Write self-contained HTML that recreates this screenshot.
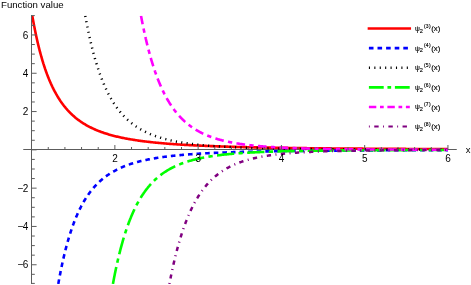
<!DOCTYPE html>
<html><head><meta charset="utf-8"><title>plot</title>
<style>
html,body{margin:0;padding:0;background:#fff;}
body{width:471px;height:285px;overflow:hidden;}
svg{display:block;will-change:transform;}
text{font-family:"Liberation Sans",sans-serif;fill:#000;}
</style></head><body>
<svg width="471" height="285" viewBox="0 0 471 285">
<rect width="471" height="285" fill="#fff"/>
<defs><clipPath id="c"><rect x="23.27" y="15.80" width="433.00" height="268.10"/></clipPath><filter id="g" filterUnits="userSpaceOnUse" x="0" y="0" width="471" height="285" color-interpolation-filters="sRGB"><feOffset dx="0" dy="0"/></filter></defs>
<g stroke="#5c5c5c" stroke-width="1" fill="none">
<line x1="23.27" y1="149.50" x2="456.78" y2="149.50"/>
</g>
<g clip-path="url(#c)" fill="none" stroke-linejoin="round">
<path d="M32.29 15.80 L32.43 16.60 L32.57 17.39 L32.71 18.17 L32.85 18.95 L32.99 19.72 L33.13 20.48 L33.27 21.24 L33.41 22.00 L33.55 22.74 L33.69 23.49 L33.83 24.22 L33.97 24.95 L34.10 25.68 L34.24 26.40 L34.38 27.11 L34.52 27.82 L34.66 28.52 L34.80 29.22 L34.94 29.91 L35.08 30.60 L35.22 31.28 L35.36 31.95 L35.50 32.63 L35.64 33.29 L35.78 33.95 L35.91 34.61 L36.05 35.26 L36.19 35.91 L36.33 36.55 L36.47 37.18 L36.61 37.81 L36.75 38.44 L36.89 39.06 L37.03 39.68 L37.17 40.29 L37.31 40.90 L37.45 41.51 L37.59 42.11 L37.72 42.70 L37.86 43.29 L38.00 43.88 L38.14 44.46 L38.28 45.04 L38.42 45.61 L38.56 46.18 L38.70 46.75 L38.84 47.31 L38.98 47.86 L39.12 48.42 L39.26 48.96 L39.40 49.51 L39.54 50.05 L39.67 50.59 L39.81 51.12 L39.95 51.65 L40.09 52.18 L40.23 52.70 L40.37 53.21 L40.51 53.73 L40.65 54.24 L40.79 54.75 L40.93 55.25 L41.07 55.75 L41.21 56.25 L41.35 56.74 L41.48 57.23 L41.62 57.71 L41.76 58.20 L41.90 58.68 L42.04 59.15 L42.18 59.62 L42.32 60.09 L42.46 60.56 L42.60 61.02 L42.74 61.48 L42.88 61.94 L43.02 62.39 L43.16 62.84 L43.29 63.29 L43.43 63.73 L43.57 64.17 L43.71 64.61 L43.85 65.04 L43.99 65.47 L44.13 65.90 L44.27 66.33 L44.41 66.75 L44.55 67.17 L44.69 67.59 L44.83 68.00 L44.97 68.41 L45.11 68.82 L45.24 69.23 L45.38 69.63 L45.52 70.03 L45.66 70.43 L45.80 70.82 L45.94 71.22 L46.08 71.60 L46.22 71.99 L46.36 72.38 L46.50 72.76 L46.64 73.14 L46.78 73.51 L46.92 73.89 L47.05 74.26 L47.19 74.63 L47.33 75.00 L47.47 75.36 L47.61 75.72 L47.75 76.08 L47.89 76.44 L48.03 76.80 L48.17 77.15 L48.31 77.50 L48.45 77.85 L48.59 78.19 L48.73 78.54 L48.86 78.88 L49.00 79.22 L49.14 79.56 L49.28 79.89 L49.42 80.22 L49.56 80.55 L49.70 80.88 L49.84 81.21 L49.98 81.53 L50.12 81.86 L50.26 82.18 L50.40 82.49 L50.54 82.81 L50.68 83.12 L50.81 83.44 L50.95 83.75 L51.09 84.05 L51.23 84.36 L51.37 84.66 L51.51 84.97 L51.65 85.27 L51.79 85.57 L51.93 85.86 L52.07 86.16 L52.21 86.45 L52.35 86.74 L52.49 87.03 L52.62 87.32 L52.76 87.60 L52.90 87.89 L53.04 88.17 L53.18 88.45 L53.32 88.73 L53.46 89.01 L53.60 89.28 L53.74 89.56 L53.88 89.83 L54.02 90.10 L54.16 90.37 L54.30 90.63 L54.43 90.90 L54.57 91.16 L54.71 91.43 L54.85 91.69 L54.99 91.94 L55.13 92.20 L55.27 92.46 L55.41 92.71 L55.55 92.97 L55.69 93.22 L55.83 93.47 L55.97 93.71 L56.11 93.96 L56.24 94.21 L56.38 94.45 L56.52 94.69 L56.66 94.93 L56.80 95.17 L56.94 95.41 L57.08 95.65 L57.22 95.88 L57.36 96.12 L57.50 96.35 L57.64 96.58 L57.78 96.81 L57.92 97.04 L58.06 97.27 L58.19 97.49 L58.33 97.72 L58.47 97.94 L58.61 98.16 L58.75 98.38 L58.89 98.60 L59.03 98.82 L59.17 99.03 L59.31 99.25 L59.45 99.46 L59.59 99.68 L59.73 99.89 L59.87 100.10 L60.00 100.31 L60.14 100.52 L60.28 100.72 L60.42 100.93 L60.56 101.13 L60.70 101.34 L60.84 101.54 L60.98 101.74 L61.12 101.94 L61.26 102.14 L61.40 102.34 L61.54 102.53 L61.68 102.73 L61.81 102.92 L61.95 103.11 L62.09 103.31 L62.23 103.50 L62.37 103.69 L62.51 103.88 L62.65 104.06 L62.79 104.25 L62.93 104.44 L63.07 104.62 L63.21 104.81 L63.35 104.99 L63.49 105.17 L63.63 105.35 L63.76 105.53 L63.90 105.71 L64.04 105.89 L64.18 106.06 L64.32 106.24 L64.46 106.41 L64.60 106.59 L64.74 106.76 L64.88 106.93 L65.02 107.10 L65.16 107.27 L65.30 107.44 L65.44 107.61 L65.57 107.78 L65.71 107.94 L65.85 108.11 L65.99 108.27 L66.13 108.44 L66.27 108.60 L66.41 108.76 L66.55 108.92 L66.69 109.08 L66.83 109.24 L66.97 109.40 L67.11 109.56 L67.25 109.71 L67.38 109.87 L67.52 110.02 L67.66 110.18 L67.80 110.33 L67.94 110.48 L68.08 110.64 L68.22 110.79 L68.36 110.94 L68.50 111.09 L68.64 111.23 L68.78 111.38 L68.92 111.53 L69.06 111.68 L69.19 111.82 L69.33 111.97 L69.47 112.11 L69.61 112.25 L69.75 112.40 L69.89 112.54 L70.03 112.68 L70.17 112.82 L70.31 112.96 L70.45 113.10 L70.59 113.23 L70.73 113.37 L70.87 113.51 L71.01 113.64 L71.14 113.78 L71.28 113.91 L71.42 114.05 L71.56 114.18 L71.70 114.31 L71.84 114.44 L71.98 114.58 L72.12 114.71 L72.26 114.84 L72.40 114.97 L72.54 115.09 L72.68 115.22 L72.82 115.35 L72.95 115.47 L73.09 115.60 L73.23 115.73 L73.37 115.85 L73.51 115.97 L73.65 116.10 L73.79 116.22 L73.93 116.34 L74.87 117.15 L75.80 117.93 L76.74 118.68 L77.68 119.41 L78.62 120.12 L79.55 120.80 L80.49 121.46 L81.43 122.10 L82.37 122.72 L83.30 123.33 L84.24 123.91 L85.18 124.47 L86.12 125.02 L87.05 125.55 L87.99 126.07 L88.93 126.57 L89.87 127.06 L90.80 127.53 L91.74 127.99 L92.68 128.43 L93.61 128.87 L94.55 129.29 L95.49 129.70 L96.43 130.09 L97.36 130.48 L98.30 130.86 L99.24 131.22 L100.18 131.58 L101.11 131.92 L102.05 132.26 L102.99 132.59 L103.93 132.91 L104.86 133.22 L105.80 133.52 L106.74 133.82 L107.68 134.11 L108.61 134.39 L109.55 134.66 L110.49 134.93 L111.43 135.19 L112.36 135.44 L113.30 135.69 L114.24 135.93 L115.17 136.17 L116.11 136.40 L117.05 136.62 L117.99 136.84 L118.92 137.06 L119.86 137.27 L120.80 137.47 L121.74 137.67 L122.67 137.87 L123.61 138.06 L124.55 138.24 L125.49 138.43 L126.42 138.60 L127.36 138.78 L128.30 138.95 L129.24 139.11 L130.17 139.28 L131.11 139.44 L132.05 139.59 L132.99 139.75 L133.92 139.90 L134.86 140.04 L135.80 140.19 L136.73 140.33 L137.67 140.46 L138.61 140.60 L139.55 140.73 L140.48 140.86 L141.42 140.99 L142.36 141.11 L143.30 141.23 L144.23 141.35 L145.17 141.47 L146.11 141.58 L147.05 141.69 L147.98 141.80 L148.92 141.91 L149.86 142.02 L150.80 142.12 L151.73 142.22 L152.67 142.32 L153.61 142.42 L154.55 142.52 L155.48 142.61 L156.42 142.70 L157.36 142.79 L158.29 142.88 L159.23 142.97 L160.17 143.06 L161.11 143.14 L162.04 143.22 L162.98 143.31 L163.92 143.39 L164.86 143.47 L165.79 143.54 L166.73 143.62 L167.67 143.69 L168.61 143.77 L169.54 143.84 L170.48 143.91 L171.42 143.98 L172.36 144.05 L173.29 144.11 L174.23 144.18 L175.17 144.25 L176.11 144.31 L177.04 144.37 L177.98 144.43 L178.92 144.50 L179.85 144.56 L180.79 144.61 L181.73 144.67 L182.67 144.73 L183.60 144.79 L184.54 144.84 L185.48 144.89 L186.42 144.95 L187.35 145.00 L188.29 145.05 L189.23 145.10 L190.17 145.15 L191.10 145.20 L192.04 145.25 L192.98 145.30 L193.92 145.35 L194.85 145.39 L195.79 145.44 L196.73 145.48 L197.67 145.53 L198.60 145.57 L199.54 145.62 L200.48 145.66 L201.42 145.70 L202.35 145.74 L203.29 145.78 L204.23 145.82 L205.16 145.86 L206.10 145.90 L207.04 145.94 L207.98 145.98 L208.91 146.01 L209.85 146.05 L210.79 146.09 L211.73 146.12 L212.66 146.16 L213.60 146.19 L214.54 146.23 L215.48 146.26 L216.41 146.30 L217.35 146.33 L218.29 146.36 L219.23 146.39 L220.16 146.42 L221.10 146.46 L222.04 146.49 L222.98 146.52 L223.91 146.55 L224.85 146.58 L225.79 146.61 L226.72 146.63 L227.66 146.66 L228.60 146.69 L229.54 146.72 L230.47 146.75 L231.41 146.77 L232.35 146.80 L233.29 146.83 L234.22 146.85 L235.16 146.88 L236.10 146.90 L237.04 146.93 L237.97 146.95 L238.91 146.98 L239.85 147.00 L240.79 147.03 L241.72 147.05 L242.66 147.07 L243.60 147.09 L244.54 147.12 L245.47 147.14 L246.41 147.16 L247.35 147.18 L248.28 147.21 L249.22 147.23 L250.16 147.25 L251.10 147.27 L252.03 147.29 L252.97 147.31 L253.91 147.33 L254.85 147.35 L255.78 147.37 L256.72 147.39 L257.66 147.41 L258.60 147.43 L259.53 147.45 L260.47 147.46 L261.41 147.48 L262.35 147.50 L263.28 147.52 L264.22 147.54 L265.16 147.55 L266.10 147.57 L267.03 147.59 L267.97 147.61 L268.91 147.62 L269.84 147.64 L270.78 147.66 L271.72 147.67 L272.66 147.69 L273.59 147.70 L274.53 147.72 L275.47 147.73 L276.41 147.75 L277.34 147.77 L278.28 147.78 L279.22 147.80 L280.16 147.81 L281.09 147.82 L282.03 147.84 L282.97 147.85 L283.91 147.87 L284.84 147.88 L285.78 147.89 L286.72 147.91 L287.66 147.92 L288.59 147.94 L289.53 147.95 L290.47 147.96 L291.41 147.97 L292.34 147.99 L293.28 148.00 L294.22 148.01 L295.15 148.03 L296.09 148.04 L297.03 148.05 L297.97 148.06 L298.90 148.07 L299.84 148.09 L300.78 148.10 L301.72 148.11 L302.65 148.12 L303.59 148.13 L304.53 148.14 L305.47 148.15 L306.40 148.17 L307.34 148.18 L308.28 148.19 L309.22 148.20 L310.15 148.21 L311.09 148.22 L312.03 148.23 L312.97 148.24 L313.90 148.25 L314.84 148.26 L315.78 148.27 L316.71 148.28 L317.65 148.29 L318.59 148.30 L319.53 148.31 L320.46 148.32 L321.40 148.33 L322.34 148.34 L323.28 148.35 L324.21 148.36 L325.15 148.37 L326.09 148.38 L327.03 148.38 L327.96 148.39 L328.90 148.40 L329.84 148.41 L330.78 148.42 L331.71 148.43 L332.65 148.44 L333.59 148.45 L334.53 148.45 L335.46 148.46 L336.40 148.47 L337.34 148.48 L338.27 148.49 L339.21 148.49 L340.15 148.50 L341.09 148.51 L342.02 148.52 L342.96 148.53 L343.90 148.53 L344.84 148.54 L345.77 148.55 L346.71 148.56 L347.65 148.56 L348.59 148.57 L349.52 148.58 L350.46 148.59 L351.40 148.59 L352.34 148.60 L353.27 148.61 L354.21 148.61 L355.15 148.62 L356.09 148.63 L357.02 148.63 L357.96 148.64 L358.90 148.65 L359.83 148.65 L360.77 148.66 L361.71 148.67 L362.65 148.67 L363.58 148.68 L364.52 148.69 L365.46 148.69 L366.40 148.70 L367.33 148.71 L368.27 148.71 L369.21 148.72 L370.15 148.72 L371.08 148.73 L372.02 148.74 L372.96 148.74 L373.90 148.75 L374.83 148.75 L375.77 148.76 L376.71 148.77 L377.65 148.77 L378.58 148.78 L379.52 148.78 L380.46 148.79 L381.39 148.79 L382.33 148.80 L383.27 148.80 L384.21 148.81 L385.14 148.82 L386.08 148.82 L387.02 148.83 L387.96 148.83 L388.89 148.84 L389.83 148.84 L390.77 148.85 L391.71 148.85 L392.64 148.86 L393.58 148.86 L394.52 148.87 L395.46 148.87 L396.39 148.88 L397.33 148.88 L398.27 148.89 L399.21 148.89 L400.14 148.90 L401.08 148.90 L402.02 148.91 L402.96 148.91 L403.89 148.91 L404.83 148.92 L405.77 148.92 L406.70 148.93 L407.64 148.93 L408.58 148.94 L409.52 148.94 L410.45 148.95 L411.39 148.95 L412.33 148.95 L413.27 148.96 L414.20 148.96 L415.14 148.97 L416.08 148.97 L417.02 148.98 L417.95 148.98 L418.89 148.98 L419.83 148.99 L420.77 148.99 L421.70 149.00 L422.64 149.00 L423.58 149.00 L424.52 149.01 L425.45 149.01 L426.39 149.02 L427.33 149.02 L428.26 149.02 L429.20 149.03 L430.14 149.03 L431.08 149.04 L432.01 149.04 L432.95 149.04 L433.89 149.05 L434.83 149.05 L435.76 149.05 L436.70 149.06 L437.64 149.06 L438.58 149.06 L439.51 149.07 L440.45 149.07 L441.39 149.07 L442.33 149.08 L443.26 149.08 L444.20 149.09 L445.14 149.09 L446.08 149.09 L447.01 149.10 L447.95 149.10" stroke="#ff0000" stroke-width="2.6"/>
<path d="M58.29 283.90 L58.43 283.12 L58.56 282.34 L58.70 281.57 L58.84 280.80 L58.98 280.04 L59.12 279.28 L59.26 278.53 L59.40 277.79 L59.54 277.05 L59.68 276.31 L59.82 275.58 L59.96 274.86 L60.10 274.14 L60.24 273.43 L60.38 272.72 L60.51 272.02 L60.65 271.32 L60.79 270.63 L60.93 269.94 L61.07 269.25 L61.21 268.58 L61.35 267.90 L61.49 267.23 L61.63 266.57 L61.77 265.91 L61.91 265.25 L62.05 264.60 L62.19 263.96 L62.32 263.32 L62.46 262.68 L62.60 262.05 L62.74 261.42 L62.88 260.80 L63.02 260.18 L63.16 259.56 L63.30 258.95 L63.44 258.35 L63.58 257.74 L63.72 257.15 L63.86 256.55 L64.00 255.96 L64.13 255.38 L64.27 254.80 L64.41 254.22 L64.55 253.64 L64.69 253.07 L64.83 252.51 L64.97 251.95 L65.11 251.39 L65.25 250.83 L65.39 250.28 L65.53 249.74 L65.67 249.19 L65.81 248.66 L65.95 248.12 L66.08 247.59 L66.22 247.06 L66.36 246.53 L66.50 246.01 L66.64 245.50 L66.78 244.98 L66.92 244.47 L67.06 243.96 L67.20 243.46 L67.34 242.96 L67.48 242.46 L67.62 241.97 L67.76 241.48 L67.89 240.99 L68.03 240.50 L68.17 240.02 L68.31 239.55 L68.45 239.07 L68.59 238.60 L68.73 238.13 L68.87 237.67 L69.01 237.20 L69.15 236.74 L69.29 236.29 L69.43 235.84 L69.57 235.39 L69.70 234.94 L69.84 234.49 L69.98 234.05 L70.12 233.61 L70.26 233.18 L70.40 232.75 L70.54 232.32 L70.68 231.89 L70.82 231.46 L70.96 231.04 L71.10 230.62 L71.24 230.21 L71.38 229.79 L71.51 229.38 L71.65 228.98 L71.79 228.57 L71.93 228.17 L72.07 227.77 L72.21 227.37 L72.35 226.97 L72.49 226.58 L72.63 226.19 L72.77 225.80 L72.91 225.42 L73.05 225.03 L73.19 224.65 L73.33 224.28 L73.46 223.90 L73.60 223.53 L73.74 223.16 L73.88 222.79 L74.02 222.42 L74.16 222.06 L74.30 221.70 L74.44 221.34 L74.58 220.98 L74.72 220.62 L74.86 220.27 L75.00 219.92 L75.14 219.57 L75.27 219.23 L75.41 218.88 L75.55 218.54 L75.69 218.20 L75.83 217.86 L75.97 217.53 L76.11 217.20 L76.25 216.86 L76.39 216.54 L76.53 216.21 L76.67 215.88 L76.81 215.56 L76.95 215.24 L77.08 214.92 L77.22 214.60 L77.36 214.29 L77.50 213.97 L77.64 213.66 L77.78 213.35 L77.92 213.04 L78.06 212.74 L78.20 212.44 L78.34 212.13 L78.48 211.83 L78.62 211.53 L78.76 211.24 L78.90 210.94 L79.03 210.65 L79.17 210.36 L79.31 210.07 L79.45 209.78 L79.59 209.50 L79.73 209.21 L79.87 208.93 L80.01 208.65 L80.15 208.37 L80.29 208.09 L80.43 207.81 L80.57 207.54 L80.71 207.27 L80.84 207.00 L80.98 206.73 L81.12 206.46 L81.26 206.19 L81.40 205.93 L81.54 205.66 L81.68 205.40 L81.82 205.14 L81.96 204.88 L82.10 204.63 L82.24 204.37 L82.38 204.12 L82.52 203.87 L82.65 203.61 L82.79 203.37 L82.93 203.12 L83.07 202.87 L83.21 202.63 L83.35 202.38 L83.49 202.14 L83.63 201.90 L83.77 201.66 L83.91 201.42 L84.05 201.18 L84.19 200.95 L84.33 200.71 L84.46 200.48 L84.60 200.25 L84.74 200.02 L84.88 199.79 L85.02 199.56 L85.16 199.34 L85.30 199.11 L85.44 198.89 L85.58 198.67 L85.72 198.45 L85.86 198.23 L86.00 198.01 L86.14 197.79 L86.28 197.58 L86.41 197.36 L86.55 197.15 L86.69 196.94 L86.83 196.72 L86.97 196.52 L87.11 196.31 L87.25 196.10 L87.39 195.89 L87.53 195.69 L87.67 195.48 L87.81 195.28 L87.95 195.08 L88.09 194.88 L88.22 194.68 L88.36 194.48 L88.50 194.28 L88.64 194.09 L88.78 193.89 L88.92 193.70 L89.06 193.50 L89.20 193.31 L89.34 193.12 L89.48 192.93 L89.62 192.74 L89.76 192.56 L89.90 192.37 L90.03 192.18 L90.17 192.00 L90.31 191.82 L90.45 191.63 L90.59 191.45 L90.73 191.27 L90.87 191.09 L91.01 190.91 L91.15 190.74 L91.29 190.56 L91.43 190.38 L91.57 190.21 L91.71 190.04 L91.85 189.86 L91.98 189.69 L92.12 189.52 L92.26 189.35 L92.40 189.18 L92.54 189.01 L92.68 188.85 L92.82 188.68 L92.96 188.51 L93.10 188.35 L93.24 188.19 L93.38 188.02 L93.52 187.86 L93.66 187.70 L93.79 187.54 L93.93 187.38 L94.07 187.22 L94.21 187.07 L94.35 186.91 L94.49 186.75 L94.63 186.60 L94.77 186.44 L94.91 186.29 L95.05 186.14 L95.19 185.99 L95.33 185.83 L95.47 185.68 L95.60 185.53 L95.74 185.39 L95.88 185.24 L96.02 185.09 L96.16 184.94 L96.30 184.80 L96.44 184.65 L96.58 184.51 L96.72 184.37 L96.86 184.22 L97.00 184.08 L97.14 183.94 L97.28 183.80 L97.41 183.66 L97.55 183.52 L97.69 183.39 L97.83 183.25 L97.97 183.11 L98.11 182.98 L98.25 182.84 L98.39 182.71 L98.53 182.57 L98.67 182.44 L98.81 182.31 L98.95 182.17 L99.09 182.04 L99.23 181.91 L99.36 181.78 L99.50 181.65 L99.64 181.53 L99.78 181.40 L99.92 181.27 L100.79 180.49 L101.67 179.73 L102.54 179.00 L103.41 178.29 L104.28 177.60 L105.15 176.93 L106.03 176.28 L106.90 175.66 L107.77 175.05 L108.64 174.46 L109.52 173.88 L110.39 173.33 L111.26 172.79 L112.13 172.26 L113.01 171.75 L113.88 171.26 L114.75 170.78 L115.62 170.31 L116.49 169.86 L117.37 169.42 L118.24 168.99 L119.11 168.57 L119.98 168.17 L120.86 167.78 L121.73 167.39 L122.60 167.02 L123.47 166.66 L124.34 166.30 L125.22 165.96 L126.09 165.63 L126.96 165.30 L127.83 164.99 L128.71 164.68 L129.58 164.38 L130.45 164.08 L131.32 163.80 L132.19 163.52 L133.07 163.25 L133.94 162.99 L134.81 162.73 L135.68 162.48 L136.56 162.23 L137.43 161.99 L138.30 161.76 L139.17 161.53 L140.05 161.31 L140.92 161.10 L141.79 160.89 L142.66 160.68 L143.53 160.48 L144.41 160.28 L145.28 160.09 L146.15 159.91 L147.02 159.72 L147.90 159.54 L148.77 159.37 L149.64 159.20 L150.51 159.03 L151.38 158.87 L152.26 158.71 L153.13 158.56 L154.00 158.41 L154.87 158.26 L155.75 158.11 L156.62 157.97 L157.49 157.83 L158.36 157.70 L159.23 157.56 L160.11 157.43 L160.98 157.31 L161.85 157.18 L162.72 157.06 L163.60 156.94 L164.47 156.83 L165.34 156.71 L166.21 156.60 L167.08 156.49 L167.96 156.38 L168.83 156.28 L169.70 156.18 L170.57 156.08 L171.45 155.98 L172.32 155.88 L173.19 155.79 L174.06 155.69 L174.94 155.60 L175.81 155.52 L176.68 155.43 L177.55 155.34 L178.42 155.26 L179.30 155.18 L180.17 155.10 L181.04 155.02 L181.91 154.94 L182.79 154.86 L183.66 154.79 L184.53 154.72 L185.40 154.65 L186.27 154.58 L187.15 154.51 L188.02 154.44 L188.89 154.37 L189.76 154.31 L190.64 154.24 L191.51 154.18 L192.38 154.12 L193.25 154.06 L194.12 154.00 L195.00 153.94 L195.87 153.89 L196.74 153.83 L197.61 153.77 L198.49 153.72 L199.36 153.67 L200.23 153.62 L201.10 153.56 L201.97 153.51 L202.85 153.46 L203.72 153.42 L204.59 153.37 L205.46 153.32 L206.34 153.27 L207.21 153.23 L208.08 153.19 L208.95 153.14 L209.83 153.10 L210.70 153.06 L211.57 153.01 L212.44 152.97 L213.31 152.93 L214.19 152.89 L215.06 152.86 L215.93 152.82 L216.80 152.78 L217.68 152.74 L218.55 152.71 L219.42 152.67 L220.29 152.64 L221.16 152.60 L222.04 152.57 L222.91 152.53 L223.78 152.50 L224.65 152.47 L225.53 152.44 L226.40 152.40 L227.27 152.37 L228.14 152.34 L229.01 152.31 L229.89 152.28 L230.76 152.25 L231.63 152.23 L232.50 152.20 L233.38 152.17 L234.25 152.14 L235.12 152.12 L235.99 152.09 L236.87 152.06 L237.74 152.04 L238.61 152.01 L239.48 151.99 L240.35 151.96 L241.23 151.94 L242.10 151.92 L242.97 151.89 L243.84 151.87 L244.72 151.85 L245.59 151.82 L246.46 151.80 L247.33 151.78 L248.20 151.76 L249.08 151.74 L249.95 151.72 L250.82 151.70 L251.69 151.68 L252.57 151.66 L253.44 151.64 L254.31 151.62 L255.18 151.60 L256.05 151.58 L256.93 151.56 L257.80 151.54 L258.67 151.52 L259.54 151.51 L260.42 151.49 L261.29 151.47 L262.16 151.46 L263.03 151.44 L263.90 151.42 L264.78 151.41 L265.65 151.39 L266.52 151.37 L267.39 151.36 L268.27 151.34 L269.14 151.33 L270.01 151.31 L270.88 151.30 L271.76 151.28 L272.63 151.27 L273.50 151.25 L274.37 151.24 L275.24 151.23 L276.12 151.21 L276.99 151.20 L277.86 151.18 L278.73 151.17 L279.61 151.16 L280.48 151.15 L281.35 151.13 L282.22 151.12 L283.09 151.11 L283.97 151.10 L284.84 151.08 L285.71 151.07 L286.58 151.06 L287.46 151.05 L288.33 151.04 L289.20 151.03 L290.07 151.01 L290.94 151.00 L291.82 150.99 L292.69 150.98 L293.56 150.97 L294.43 150.96 L295.31 150.95 L296.18 150.94 L297.05 150.93 L297.92 150.92 L298.79 150.91 L299.67 150.90 L300.54 150.89 L301.41 150.88 L302.28 150.87 L303.16 150.86 L304.03 150.85 L304.90 150.84 L305.77 150.84 L306.65 150.83 L307.52 150.82 L308.39 150.81 L309.26 150.80 L310.13 150.79 L311.01 150.78 L311.88 150.78 L312.75 150.77 L313.62 150.76 L314.50 150.75 L315.37 150.74 L316.24 150.74 L317.11 150.73 L317.98 150.72 L318.86 150.71 L319.73 150.71 L320.60 150.70 L321.47 150.69 L322.35 150.68 L323.22 150.68 L324.09 150.67 L324.96 150.66 L325.83 150.66 L326.71 150.65 L327.58 150.64 L328.45 150.64 L329.32 150.63 L330.20 150.62 L331.07 150.62 L331.94 150.61 L332.81 150.60 L333.68 150.60 L334.56 150.59 L335.43 150.58 L336.30 150.58 L337.17 150.57 L338.05 150.57 L338.92 150.56 L339.79 150.56 L340.66 150.55 L341.54 150.54 L342.41 150.54 L343.28 150.53 L344.15 150.53 L345.02 150.52 L345.90 150.52 L346.77 150.51 L347.64 150.51 L348.51 150.50 L349.39 150.50 L350.26 150.49 L351.13 150.49 L352.00 150.48 L352.87 150.48 L353.75 150.47 L354.62 150.47 L355.49 150.46 L356.36 150.46 L357.24 150.45 L358.11 150.45 L358.98 150.44 L359.85 150.44 L360.72 150.43 L361.60 150.43 L362.47 150.43 L363.34 150.42 L364.21 150.42 L365.09 150.41 L365.96 150.41 L366.83 150.40 L367.70 150.40 L368.58 150.40 L369.45 150.39 L370.32 150.39 L371.19 150.38 L372.06 150.38 L372.94 150.38 L373.81 150.37 L374.68 150.37 L375.55 150.36 L376.43 150.36 L377.30 150.36 L378.17 150.35 L379.04 150.35 L379.91 150.35 L380.79 150.34 L381.66 150.34 L382.53 150.34 L383.40 150.33 L384.28 150.33 L385.15 150.32 L386.02 150.32 L386.89 150.32 L387.76 150.31 L388.64 150.31 L389.51 150.31 L390.38 150.30 L391.25 150.30 L392.13 150.30 L393.00 150.30 L393.87 150.29 L394.74 150.29 L395.61 150.29 L396.49 150.28 L397.36 150.28 L398.23 150.28 L399.10 150.27 L399.98 150.27 L400.85 150.27 L401.72 150.27 L402.59 150.26 L403.47 150.26 L404.34 150.26 L405.21 150.25 L406.08 150.25 L406.95 150.25 L407.83 150.25 L408.70 150.24 L409.57 150.24 L410.44 150.24 L411.32 150.24 L412.19 150.23 L413.06 150.23 L413.93 150.23 L414.80 150.23 L415.68 150.22 L416.55 150.22 L417.42 150.22 L418.29 150.22 L419.17 150.21 L420.04 150.21 L420.91 150.21 L421.78 150.21 L422.65 150.20 L423.53 150.20 L424.40 150.20 L425.27 150.20 L426.14 150.20 L427.02 150.19 L427.89 150.19 L428.76 150.19 L429.63 150.19 L430.50 150.18 L431.38 150.18 L432.25 150.18 L433.12 150.18 L433.99 150.18 L434.87 150.17 L435.74 150.17 L436.61 150.17 L437.48 150.17 L438.36 150.17 L439.23 150.16 L440.10 150.16 L440.97 150.16 L441.84 150.16 L442.72 150.16 L443.59 150.15 L444.46 150.15 L445.33 150.15 L446.21 150.15 L447.08 150.15 L447.95 150.14" stroke="#0000ff" stroke-width="2.6" stroke-dasharray="4.6 4"/>
<path d="M85.29 15.80 L85.43 16.57 L85.57 17.33 L85.71 18.09 L85.85 18.84 L85.99 19.58 L86.13 20.33 L86.27 21.06 L86.41 21.79 L86.55 22.52 L86.69 23.24 L86.83 23.96 L86.96 24.67 L87.10 25.38 L87.24 26.08 L87.38 26.78 L87.52 27.47 L87.66 28.16 L87.80 28.84 L87.94 29.52 L88.08 30.19 L88.22 30.86 L88.36 31.53 L88.50 32.19 L88.64 32.85 L88.78 33.50 L88.91 34.15 L89.05 34.79 L89.19 35.43 L89.33 36.06 L89.47 36.69 L89.61 37.32 L89.75 37.94 L89.89 38.56 L90.03 39.18 L90.17 39.79 L90.31 40.39 L90.45 40.99 L90.59 41.59 L90.72 42.19 L90.86 42.78 L91.00 43.36 L91.14 43.95 L91.28 44.52 L91.42 45.10 L91.56 45.67 L91.70 46.24 L91.84 46.80 L91.98 47.36 L92.12 47.92 L92.26 48.47 L92.40 49.02 L92.53 49.56 L92.67 50.11 L92.81 50.65 L92.95 51.18 L93.09 51.71 L93.23 52.24 L93.37 52.76 L93.51 53.29 L93.65 53.80 L93.79 54.32 L93.93 54.83 L94.07 55.34 L94.21 55.84 L94.35 56.34 L94.48 56.84 L94.62 57.34 L94.76 57.83 L94.90 58.32 L95.04 58.80 L95.18 59.29 L95.32 59.77 L95.46 60.24 L95.60 60.72 L95.74 61.19 L95.88 61.66 L96.02 62.12 L96.16 62.58 L96.29 63.04 L96.43 63.50 L96.57 63.95 L96.71 64.40 L96.85 64.85 L96.99 65.29 L97.13 65.73 L97.27 66.17 L97.41 66.61 L97.55 67.04 L97.69 67.47 L97.83 67.90 L97.97 68.33 L98.10 68.75 L98.24 69.17 L98.38 69.59 L98.52 70.00 L98.66 70.41 L98.80 70.82 L98.94 71.23 L99.08 71.63 L99.22 72.04 L99.36 72.44 L99.50 72.83 L99.64 73.23 L99.78 73.62 L99.91 74.01 L100.05 74.40 L100.19 74.78 L100.33 75.17 L100.47 75.55 L100.61 75.93 L100.75 76.30 L100.89 76.68 L101.03 77.05 L101.17 77.42 L101.31 77.78 L101.45 78.15 L101.59 78.51 L101.73 78.87 L101.86 79.23 L102.00 79.58 L102.14 79.94 L102.28 80.29 L102.42 80.64 L102.56 80.98 L102.70 81.33 L102.84 81.67 L102.98 82.01 L103.12 82.35 L103.26 82.69 L103.40 83.02 L103.54 83.36 L103.67 83.69 L103.81 84.02 L103.95 84.34 L104.09 84.67 L104.23 84.99 L104.37 85.31 L104.51 85.63 L104.65 85.95 L104.79 86.27 L104.93 86.58 L105.07 86.89 L105.21 87.20 L105.35 87.51 L105.48 87.81 L105.62 88.12 L105.76 88.42 L105.90 88.72 L106.04 89.02 L106.18 89.32 L106.32 89.61 L106.46 89.91 L106.60 90.20 L106.74 90.49 L106.88 90.78 L107.02 91.07 L107.16 91.35 L107.30 91.64 L107.43 91.92 L107.57 92.20 L107.71 92.48 L107.85 92.75 L107.99 93.03 L108.13 93.30 L108.27 93.57 L108.41 93.85 L108.55 94.11 L108.69 94.38 L108.83 94.65 L108.97 94.91 L109.11 95.18 L109.24 95.44 L109.38 95.70 L109.52 95.96 L109.66 96.21 L109.80 96.47 L109.94 96.72 L110.08 96.97 L110.22 97.23 L110.36 97.48 L110.50 97.72 L110.64 97.97 L110.78 98.22 L110.92 98.46 L111.05 98.70 L111.19 98.94 L111.33 99.18 L111.47 99.42 L111.61 99.66 L111.75 99.90 L111.89 100.13 L112.03 100.36 L112.17 100.60 L112.31 100.83 L112.45 101.06 L112.59 101.28 L112.73 101.51 L112.86 101.74 L113.00 101.96 L113.14 102.18 L113.28 102.40 L113.42 102.62 L113.56 102.84 L113.70 103.06 L113.84 103.28 L113.98 103.49 L114.12 103.71 L114.26 103.92 L114.40 104.13 L114.54 104.34 L114.68 104.55 L114.81 104.76 L114.95 104.97 L115.09 105.17 L115.23 105.38 L115.37 105.58 L115.51 105.79 L115.65 105.99 L115.79 106.19 L115.93 106.39 L116.07 106.59 L116.21 106.78 L116.35 106.98 L116.49 107.17 L116.62 107.37 L116.76 107.56 L116.90 107.75 L117.04 107.94 L117.18 108.13 L117.32 108.32 L117.46 108.51 L117.60 108.70 L117.74 108.88 L117.88 109.07 L118.02 109.25 L118.16 109.43 L118.30 109.61 L118.43 109.80 L118.57 109.97 L118.71 110.15 L118.85 110.33 L118.99 110.51 L119.13 110.68 L119.27 110.86 L119.41 111.03 L119.55 111.21 L119.69 111.38 L119.83 111.55 L119.97 111.72 L120.11 111.89 L120.25 112.06 L120.38 112.22 L120.52 112.39 L120.66 112.56 L120.80 112.72 L120.94 112.89 L121.08 113.05 L121.22 113.21 L121.36 113.37 L121.50 113.53 L121.64 113.69 L121.78 113.85 L121.92 114.01 L122.06 114.17 L122.19 114.32 L122.33 114.48 L122.47 114.63 L122.61 114.79 L122.75 114.94 L122.89 115.09 L123.03 115.24 L123.17 115.39 L123.31 115.54 L123.45 115.69 L123.59 115.84 L123.73 115.99 L123.87 116.13 L124.00 116.28 L124.14 116.43 L124.28 116.57 L124.42 116.71 L124.56 116.86 L124.70 117.00 L124.84 117.14 L124.98 117.28 L125.12 117.42 L125.26 117.56 L125.40 117.70 L125.54 117.84 L125.68 117.97 L125.81 118.11 L125.95 118.24 L126.09 118.38 L126.23 118.51 L126.37 118.65 L126.51 118.78 L126.65 118.91 L126.79 119.04 L126.93 119.17 L127.73 119.92 L128.54 120.64 L129.34 121.34 L130.15 122.02 L130.95 122.68 L131.76 123.32 L132.56 123.94 L133.37 124.55 L134.17 125.14 L134.97 125.71 L135.78 126.27 L136.58 126.81 L137.39 127.33 L138.19 127.85 L139.00 128.34 L139.80 128.83 L140.61 129.30 L141.41 129.75 L142.22 130.20 L143.02 130.63 L143.82 131.06 L144.63 131.47 L145.43 131.87 L146.24 132.26 L147.04 132.63 L147.85 133.00 L148.65 133.36 L149.46 133.71 L150.26 134.06 L151.07 134.39 L151.87 134.71 L152.68 135.03 L153.48 135.34 L154.28 135.64 L155.09 135.93 L155.89 136.22 L156.70 136.49 L157.50 136.76 L158.31 137.03 L159.11 137.29 L159.92 137.54 L160.72 137.79 L161.53 138.03 L162.33 138.26 L163.13 138.49 L163.94 138.71 L164.74 138.93 L165.55 139.14 L166.35 139.35 L167.16 139.55 L167.96 139.75 L168.77 139.94 L169.57 140.13 L170.38 140.32 L171.18 140.50 L171.98 140.67 L172.79 140.84 L173.59 141.01 L174.40 141.18 L175.20 141.34 L176.01 141.49 L176.81 141.65 L177.62 141.80 L178.42 141.94 L179.23 142.09 L180.03 142.23 L180.83 142.36 L181.64 142.50 L182.44 142.63 L183.25 142.76 L184.05 142.88 L184.86 143.01 L185.66 143.13 L186.47 143.24 L187.27 143.36 L188.08 143.47 L188.88 143.58 L189.68 143.69 L190.49 143.80 L191.29 143.90 L192.10 144.00 L192.90 144.10 L193.71 144.20 L194.51 144.29 L195.32 144.39 L196.12 144.48 L196.93 144.57 L197.73 144.65 L198.54 144.74 L199.34 144.82 L200.14 144.91 L200.95 144.99 L201.75 145.07 L202.56 145.14 L203.36 145.22 L204.17 145.30 L204.97 145.37 L205.78 145.44 L206.58 145.51 L207.39 145.58 L208.19 145.65 L208.99 145.71 L209.80 145.78 L210.60 145.84 L211.41 145.90 L212.21 145.97 L213.02 146.03 L213.82 146.09 L214.63 146.14 L215.43 146.20 L216.24 146.26 L217.04 146.31 L217.84 146.36 L218.65 146.42 L219.45 146.47 L220.26 146.52 L221.06 146.57 L221.87 146.62 L222.67 146.67 L223.48 146.71 L224.28 146.76 L225.09 146.80 L225.89 146.85 L226.69 146.89 L227.50 146.94 L228.30 146.98 L229.11 147.02 L229.91 147.06 L230.72 147.10 L231.52 147.14 L232.33 147.18 L233.13 147.22 L233.94 147.25 L234.74 147.29 L235.55 147.33 L236.35 147.36 L237.15 147.40 L237.96 147.43 L238.76 147.47 L239.57 147.50 L240.37 147.53 L241.18 147.56 L241.98 147.59 L242.79 147.63 L243.59 147.66 L244.40 147.69 L245.20 147.71 L246.00 147.74 L246.81 147.77 L247.61 147.80 L248.42 147.83 L249.22 147.85 L250.03 147.88 L250.83 147.91 L251.64 147.93 L252.44 147.96 L253.25 147.98 L254.05 148.01 L254.85 148.03 L255.66 148.06 L256.46 148.08 L257.27 148.10 L258.07 148.12 L258.88 148.15 L259.68 148.17 L260.49 148.19 L261.29 148.21 L262.10 148.23 L262.90 148.25 L263.70 148.27 L264.51 148.29 L265.31 148.31 L266.12 148.33 L266.92 148.35 L267.73 148.37 L268.53 148.39 L269.34 148.41 L270.14 148.42 L270.95 148.44 L271.75 148.46 L272.56 148.48 L273.36 148.49 L274.16 148.51 L274.97 148.52 L275.77 148.54 L276.58 148.56 L277.38 148.57 L278.19 148.59 L278.99 148.60 L279.80 148.62 L280.60 148.63 L281.41 148.65 L282.21 148.66 L283.01 148.68 L283.82 148.69 L284.62 148.70 L285.43 148.72 L286.23 148.73 L287.04 148.74 L287.84 148.76 L288.65 148.77 L289.45 148.78 L290.26 148.79 L291.06 148.80 L291.86 148.82 L292.67 148.83 L293.47 148.84 L294.28 148.85 L295.08 148.86 L295.89 148.87 L296.69 148.89 L297.50 148.90 L298.30 148.91 L299.11 148.92 L299.91 148.93 L300.71 148.94 L301.52 148.95 L302.32 148.96 L303.13 148.97 L303.93 148.98 L304.74 148.99 L305.54 149.00 L306.35 149.01 L307.15 149.02 L307.96 149.02 L308.76 149.03 L309.56 149.04 L310.37 149.05 L311.17 149.06 L311.98 149.07 L312.78 149.08 L313.59 149.08 L314.39 149.09 L315.20 149.10 L316.00 149.11 L316.81 149.12 L317.61 149.12 L318.42 149.13 L319.22 149.14 L320.02 149.15 L320.83 149.15 L321.63 149.16 L322.44 149.17 L323.24 149.18 L324.05 149.18 L324.85 149.19 L325.66 149.20 L326.46 149.20 L327.27 149.21 L328.07 149.22 L328.87 149.22 L329.68 149.23 L330.48 149.24 L331.29 149.24 L332.09 149.25 L332.90 149.25 L333.70 149.26 L334.51 149.27 L335.31 149.27 L336.12 149.28 L336.92 149.28 L337.72 149.29 L338.53 149.29 L339.33 149.30 L340.14 149.30 L340.94 149.31 L341.75 149.32 L342.55 149.32 L343.36 149.33 L344.16 149.33 L344.97 149.34 L345.77 149.34 L346.57 149.35 L347.38 149.35 L348.18 149.36 L348.99 149.36 L349.79 149.37 L350.60 149.37 L351.40 149.37 L352.21 149.38 L353.01 149.38 L353.82 149.39 L354.62 149.39 L355.43 149.40 L356.23 149.40 L357.03 149.40 L357.84 149.41 L358.64 149.41 L359.45 149.42 L360.25 149.42 L361.06 149.43 L361.86 149.43 L362.67 149.43 L363.47 149.44 L364.28 149.44 L365.08 149.44 L365.88 149.45 L366.69 149.45 L367.49 149.46 L368.30 149.46 L369.10 149.46 L369.91 149.47 L370.71 149.47 L371.52 149.47 L372.32 149.48 L373.13 149.48 L373.93 149.48 L374.73 149.49 L375.54 149.49 L376.34 149.49 L377.15 149.50 L377.95 149.50 L378.76 149.50 L379.56 149.51 L380.37 149.51 L381.17 149.51 L381.98 149.51 L382.78 149.52 L383.58 149.52 L384.39 149.52 L385.19 149.53 L386.00 149.53 L386.80 149.53 L387.61 149.53 L388.41 149.54 L389.22 149.54 L390.02 149.54 L390.83 149.55 L391.63 149.55 L392.44 149.55 L393.24 149.55 L394.04 149.56 L394.85 149.56 L395.65 149.56 L396.46 149.56 L397.26 149.57 L398.07 149.57 L398.87 149.57 L399.68 149.57 L400.48 149.57 L401.29 149.58 L402.09 149.58 L402.89 149.58 L403.70 149.58 L404.50 149.59 L405.31 149.59 L406.11 149.59 L406.92 149.59 L407.72 149.59 L408.53 149.60 L409.33 149.60 L410.14 149.60 L410.94 149.60 L411.74 149.60 L412.55 149.61 L413.35 149.61 L414.16 149.61 L414.96 149.61 L415.77 149.61 L416.57 149.62 L417.38 149.62 L418.18 149.62 L418.99 149.62 L419.79 149.62 L420.59 149.63 L421.40 149.63 L422.20 149.63 L423.01 149.63 L423.81 149.63 L424.62 149.63 L425.42 149.64 L426.23 149.64 L427.03 149.64 L427.84 149.64 L428.64 149.64 L429.45 149.64 L430.25 149.65 L431.05 149.65 L431.86 149.65 L432.66 149.65 L433.47 149.65 L434.27 149.65 L435.08 149.66 L435.88 149.66 L436.69 149.66 L437.49 149.66 L438.30 149.66 L439.10 149.66 L439.90 149.66 L440.71 149.67 L441.51 149.67 L442.32 149.67 L443.12 149.67 L443.93 149.67 L444.73 149.67 L445.54 149.67 L446.34 149.67 L447.15 149.68 L447.95 149.68" stroke="#000000" stroke-width="2.5" stroke-dasharray="1.15 4.26"/>
<path d="M112.93 283.90 L113.07 283.15 L113.21 282.40 L113.35 281.66 L113.49 280.92 L113.63 280.19 L113.77 279.46 L113.91 278.73 L114.05 278.02 L114.19 277.30 L114.32 276.59 L114.46 275.89 L114.60 275.19 L114.74 274.49 L114.88 273.80 L115.02 273.11 L115.16 272.43 L115.30 271.75 L115.44 271.08 L115.58 270.41 L115.72 269.74 L115.86 269.08 L116.00 268.43 L116.13 267.77 L116.27 267.13 L116.41 266.48 L116.55 265.84 L116.69 265.21 L116.83 264.57 L116.97 263.95 L117.11 263.32 L117.25 262.70 L117.39 262.09 L117.53 261.48 L117.67 260.87 L117.81 260.26 L117.94 259.66 L118.08 259.07 L118.22 258.47 L118.36 257.89 L118.50 257.30 L118.64 256.72 L118.78 256.14 L118.92 255.57 L119.06 255.00 L119.20 254.43 L119.34 253.87 L119.48 253.31 L119.62 252.75 L119.76 252.20 L119.89 251.65 L120.03 251.10 L120.17 250.56 L120.31 250.02 L120.45 249.48 L120.59 248.95 L120.73 248.42 L120.87 247.89 L121.01 247.37 L121.15 246.85 L121.29 246.34 L121.43 245.82 L121.57 245.31 L121.70 244.81 L121.84 244.30 L121.98 243.80 L122.12 243.31 L122.26 242.81 L122.40 242.32 L122.54 241.83 L122.68 241.35 L122.82 240.86 L122.96 240.39 L123.10 239.91 L123.24 239.44 L123.38 238.97 L123.51 238.50 L123.65 238.03 L123.79 237.57 L123.93 237.11 L124.07 236.66 L124.21 236.20 L124.35 235.75 L124.49 235.30 L124.63 234.86 L124.77 234.42 L124.91 233.98 L125.05 233.54 L125.19 233.10 L125.33 232.67 L125.46 232.24 L125.60 231.82 L125.74 231.39 L125.88 230.97 L126.02 230.55 L126.16 230.14 L126.30 229.72 L126.44 229.31 L126.58 228.90 L126.72 228.49 L126.86 228.09 L127.00 227.69 L127.14 227.29 L127.27 226.89 L127.41 226.50 L127.55 226.11 L127.69 225.72 L127.83 225.33 L127.97 224.94 L128.11 224.56 L128.25 224.18 L128.39 223.80 L128.53 223.42 L128.67 223.05 L128.81 222.68 L128.95 222.31 L129.08 221.94 L129.22 221.58 L129.36 221.21 L129.50 220.85 L129.64 220.49 L129.78 220.14 L129.92 219.78 L130.06 219.43 L130.20 219.08 L130.34 218.73 L130.48 218.39 L130.62 218.04 L130.76 217.70 L130.89 217.36 L131.03 217.02 L131.17 216.69 L131.31 216.35 L131.45 216.02 L131.59 215.69 L131.73 215.36 L131.87 215.03 L132.01 214.71 L132.15 214.39 L132.29 214.07 L132.43 213.75 L132.57 213.43 L132.71 213.11 L132.84 212.80 L132.98 212.49 L133.12 212.18 L133.26 211.87 L133.40 211.57 L133.54 211.26 L133.68 210.96 L133.82 210.66 L133.96 210.36 L134.10 210.06 L134.24 209.76 L134.38 209.47 L134.52 209.18 L134.65 208.89 L134.79 208.60 L134.93 208.31 L135.07 208.02 L135.21 207.74 L135.35 207.46 L135.49 207.18 L135.63 206.90 L135.77 206.62 L135.91 206.34 L136.05 206.07 L136.19 205.80 L136.33 205.52 L136.46 205.25 L136.60 204.99 L136.74 204.72 L136.88 204.45 L137.02 204.19 L137.16 203.93 L137.30 203.67 L137.44 203.41 L137.58 203.15 L137.72 202.89 L137.86 202.64 L138.00 202.38 L138.14 202.13 L138.28 201.88 L138.41 201.63 L138.55 201.38 L138.69 201.14 L138.83 200.89 L138.97 200.65 L139.11 200.40 L139.25 200.16 L139.39 199.92 L139.53 199.69 L139.67 199.45 L139.81 199.21 L139.95 198.98 L140.09 198.74 L140.22 198.51 L140.36 198.28 L140.50 198.05 L140.64 197.82 L140.78 197.60 L140.92 197.37 L141.06 197.15 L141.20 196.92 L141.34 196.70 L141.48 196.48 L141.62 196.26 L141.76 196.04 L141.90 195.83 L142.03 195.61 L142.17 195.40 L142.31 195.18 L142.45 194.97 L142.59 194.76 L142.73 194.55 L142.87 194.34 L143.01 194.13 L143.15 193.93 L143.29 193.72 L143.43 193.52 L143.57 193.31 L143.71 193.11 L143.84 192.91 L143.98 192.71 L144.12 192.51 L144.26 192.31 L144.40 192.12 L144.54 191.92 L144.68 191.73 L144.82 191.53 L144.96 191.34 L145.10 191.15 L145.24 190.96 L145.38 190.77 L145.52 190.58 L145.66 190.39 L145.79 190.21 L145.93 190.02 L146.07 189.84 L146.21 189.66 L146.35 189.47 L146.49 189.29 L146.63 189.11 L146.77 188.93 L146.91 188.75 L147.05 188.58 L147.19 188.40 L147.33 188.22 L147.47 188.05 L147.60 187.88 L147.74 187.70 L147.88 187.53 L148.02 187.36 L148.16 187.19 L148.30 187.02 L148.44 186.85 L148.58 186.68 L148.72 186.52 L148.86 186.35 L149.00 186.19 L149.14 186.02 L149.28 185.86 L149.41 185.70 L149.55 185.54 L149.69 185.38 L149.83 185.22 L149.97 185.06 L150.11 184.90 L150.25 184.74 L150.39 184.59 L150.53 184.43 L150.67 184.28 L150.81 184.12 L150.95 183.97 L151.09 183.82 L151.23 183.67 L151.36 183.52 L151.50 183.37 L151.64 183.22 L151.78 183.07 L151.92 182.92 L152.06 182.77 L152.20 182.63 L152.34 182.48 L152.48 182.34 L152.62 182.20 L152.76 182.05 L152.90 181.91 L153.04 181.77 L153.17 181.63 L153.31 181.49 L153.45 181.35 L153.59 181.21 L153.73 181.07 L153.87 180.93 L154.01 180.80 L154.15 180.66 L154.29 180.53 L154.43 180.39 L154.57 180.26 L155.30 179.56 L156.04 178.89 L156.77 178.23 L157.51 177.59 L158.24 176.97 L158.98 176.36 L159.71 175.77 L160.45 175.19 L161.18 174.63 L161.92 174.08 L162.66 173.55 L163.39 173.03 L164.13 172.53 L164.86 172.03 L165.60 171.55 L166.33 171.08 L167.07 170.63 L167.80 170.18 L168.54 169.75 L169.27 169.33 L170.01 168.91 L170.74 168.51 L171.48 168.12 L172.21 167.74 L172.95 167.37 L173.68 167.00 L174.42 166.65 L175.16 166.30 L175.89 165.96 L176.63 165.63 L177.36 165.31 L178.10 164.99 L178.83 164.69 L179.57 164.39 L180.30 164.10 L181.04 163.81 L181.77 163.53 L182.51 163.26 L183.24 162.99 L183.98 162.73 L184.71 162.48 L185.45 162.23 L186.18 161.99 L186.92 161.75 L187.66 161.52 L188.39 161.30 L189.13 161.07 L189.86 160.86 L190.60 160.65 L191.33 160.44 L192.07 160.24 L192.80 160.04 L193.54 159.85 L194.27 159.66 L195.01 159.48 L195.74 159.30 L196.48 159.12 L197.21 158.95 L197.95 158.78 L198.68 158.61 L199.42 158.45 L200.16 158.30 L200.89 158.14 L201.63 157.99 L202.36 157.84 L203.10 157.70 L203.83 157.56 L204.57 157.42 L205.30 157.28 L206.04 157.15 L206.77 157.02 L207.51 156.89 L208.24 156.77 L208.98 156.64 L209.71 156.52 L210.45 156.41 L211.18 156.29 L211.92 156.18 L212.66 156.07 L213.39 155.96 L214.13 155.86 L214.86 155.75 L215.60 155.65 L216.33 155.55 L217.07 155.46 L217.80 155.36 L218.54 155.27 L219.27 155.18 L220.01 155.09 L220.74 155.00 L221.48 154.91 L222.21 154.83 L222.95 154.74 L223.68 154.66 L224.42 154.58 L225.16 154.51 L225.89 154.43 L226.63 154.35 L227.36 154.28 L228.10 154.21 L228.83 154.14 L229.57 154.07 L230.30 154.00 L231.04 153.93 L231.77 153.87 L232.51 153.80 L233.24 153.74 L233.98 153.68 L234.71 153.62 L235.45 153.56 L236.18 153.50 L236.92 153.44 L237.66 153.38 L238.39 153.33 L239.13 153.28 L239.86 153.22 L240.60 153.17 L241.33 153.12 L242.07 153.07 L242.80 153.02 L243.54 152.97 L244.27 152.92 L245.01 152.88 L245.74 152.83 L246.48 152.78 L247.21 152.74 L247.95 152.70 L248.68 152.65 L249.42 152.61 L250.16 152.57 L250.89 152.53 L251.63 152.49 L252.36 152.45 L253.10 152.41 L253.83 152.37 L254.57 152.34 L255.30 152.30 L256.04 152.26 L256.77 152.23 L257.51 152.19 L258.24 152.16 L258.98 152.13 L259.71 152.09 L260.45 152.06 L261.18 152.03 L261.92 152.00 L262.66 151.97 L263.39 151.94 L264.13 151.91 L264.86 151.88 L265.60 151.85 L266.33 151.82 L267.07 151.79 L267.80 151.77 L268.54 151.74 L269.27 151.71 L270.01 151.69 L270.74 151.66 L271.48 151.64 L272.21 151.61 L272.95 151.59 L273.68 151.56 L274.42 151.54 L275.16 151.52 L275.89 151.49 L276.63 151.47 L277.36 151.45 L278.10 151.43 L278.83 151.41 L279.57 151.39 L280.30 151.37 L281.04 151.35 L281.77 151.33 L282.51 151.31 L283.24 151.29 L283.98 151.27 L284.71 151.25 L285.45 151.23 L286.18 151.21 L286.92 151.19 L287.66 151.18 L288.39 151.16 L289.13 151.14 L289.86 151.13 L290.60 151.11 L291.33 151.09 L292.07 151.08 L292.80 151.06 L293.54 151.04 L294.27 151.03 L295.01 151.01 L295.74 151.00 L296.48 150.99 L297.21 150.97 L297.95 150.96 L298.68 150.94 L299.42 150.93 L300.16 150.92 L300.89 150.90 L301.63 150.89 L302.36 150.88 L303.10 150.86 L303.83 150.85 L304.57 150.84 L305.30 150.83 L306.04 150.81 L306.77 150.80 L307.51 150.79 L308.24 150.78 L308.98 150.77 L309.71 150.76 L310.45 150.74 L311.19 150.73 L311.92 150.72 L312.66 150.71 L313.39 150.70 L314.13 150.69 L314.86 150.68 L315.60 150.67 L316.33 150.66 L317.07 150.65 L317.80 150.64 L318.54 150.63 L319.27 150.62 L320.01 150.61 L320.74 150.61 L321.48 150.60 L322.21 150.59 L322.95 150.58 L323.69 150.57 L324.42 150.56 L325.16 150.55 L325.89 150.55 L326.63 150.54 L327.36 150.53 L328.10 150.52 L328.83 150.51 L329.57 150.51 L330.30 150.50 L331.04 150.49 L331.77 150.48 L332.51 150.48 L333.24 150.47 L333.98 150.46 L334.71 150.46 L335.45 150.45 L336.19 150.44 L336.92 150.44 L337.66 150.43 L338.39 150.42 L339.13 150.42 L339.86 150.41 L340.60 150.40 L341.33 150.40 L342.07 150.39 L342.80 150.39 L343.54 150.38 L344.27 150.37 L345.01 150.37 L345.74 150.36 L346.48 150.36 L347.21 150.35 L347.95 150.35 L348.69 150.34 L349.42 150.34 L350.16 150.33 L350.89 150.32 L351.63 150.32 L352.36 150.31 L353.10 150.31 L353.83 150.30 L354.57 150.30 L355.30 150.30 L356.04 150.29 L356.77 150.29 L357.51 150.28 L358.24 150.28 L358.98 150.27 L359.71 150.27 L360.45 150.26 L361.19 150.26 L361.92 150.25 L362.66 150.25 L363.39 150.25 L364.13 150.24 L364.86 150.24 L365.60 150.23 L366.33 150.23 L367.07 150.23 L367.80 150.22 L368.54 150.22 L369.27 150.21 L370.01 150.21 L370.74 150.21 L371.48 150.20 L372.21 150.20 L372.95 150.20 L373.69 150.19 L374.42 150.19 L375.16 150.19 L375.89 150.18 L376.63 150.18 L377.36 150.18 L378.10 150.17 L378.83 150.17 L379.57 150.17 L380.30 150.16 L381.04 150.16 L381.77 150.16 L382.51 150.15 L383.24 150.15 L383.98 150.15 L384.71 150.14 L385.45 150.14 L386.19 150.14 L386.92 150.14 L387.66 150.13 L388.39 150.13 L389.13 150.13 L389.86 150.13 L390.60 150.12 L391.33 150.12 L392.07 150.12 L392.80 150.11 L393.54 150.11 L394.27 150.11 L395.01 150.11 L395.74 150.10 L396.48 150.10 L397.21 150.10 L397.95 150.10 L398.69 150.09 L399.42 150.09 L400.16 150.09 L400.89 150.09 L401.63 150.09 L402.36 150.08 L403.10 150.08 L403.83 150.08 L404.57 150.08 L405.30 150.07 L406.04 150.07 L406.77 150.07 L407.51 150.07 L408.24 150.07 L408.98 150.06 L409.71 150.06 L410.45 150.06 L411.19 150.06 L411.92 150.06 L412.66 150.05 L413.39 150.05 L414.13 150.05 L414.86 150.05 L415.60 150.05 L416.33 150.05 L417.07 150.04 L417.80 150.04 L418.54 150.04 L419.27 150.04 L420.01 150.04 L420.74 150.04 L421.48 150.03 L422.21 150.03 L422.95 150.03 L423.69 150.03 L424.42 150.03 L425.16 150.03 L425.89 150.02 L426.63 150.02 L427.36 150.02 L428.10 150.02 L428.83 150.02 L429.57 150.02 L430.30 150.01 L431.04 150.01 L431.77 150.01 L432.51 150.01 L433.24 150.01 L433.98 150.01 L434.71 150.01 L435.45 150.00 L436.19 150.00 L436.92 150.00 L437.66 150.00 L438.39 150.00 L439.13 150.00 L439.86 150.00 L440.60 150.00 L441.33 149.99 L442.07 149.99 L442.80 149.99 L443.54 149.99 L444.27 149.99 L445.01 149.99 L445.74 149.99 L446.48 149.99 L447.21 149.98 L447.95 149.98" stroke="#00ff00" stroke-width="2.6" stroke-dasharray="17.3 4.33 4.33 4.33"/>
<path d="M141.01 15.80 L141.15 16.54 L141.29 17.28 L141.43 18.01 L141.57 18.73 L141.71 19.45 L141.85 20.17 L141.99 20.88 L142.12 21.59 L142.26 22.29 L142.40 22.99 L142.54 23.69 L142.68 24.38 L142.82 25.06 L142.96 25.75 L143.10 26.42 L143.24 27.10 L143.38 27.77 L143.52 28.43 L143.66 29.09 L143.80 29.75 L143.93 30.40 L144.07 31.05 L144.21 31.69 L144.35 32.33 L144.49 32.97 L144.63 33.60 L144.77 34.23 L144.91 34.86 L145.05 35.48 L145.19 36.10 L145.33 36.71 L145.47 37.32 L145.61 37.92 L145.74 38.53 L145.88 39.12 L146.02 39.72 L146.16 40.31 L146.30 40.90 L146.44 41.48 L146.58 42.06 L146.72 42.64 L146.86 43.21 L147.00 43.78 L147.14 44.35 L147.28 44.91 L147.42 45.47 L147.56 46.03 L147.69 46.58 L147.83 47.13 L147.97 47.67 L148.11 48.22 L148.25 48.76 L148.39 49.29 L148.53 49.83 L148.67 50.36 L148.81 50.88 L148.95 51.40 L149.09 51.92 L149.23 52.44 L149.37 52.96 L149.50 53.47 L149.64 53.97 L149.78 54.48 L149.92 54.98 L150.06 55.48 L150.20 55.97 L150.34 56.47 L150.48 56.96 L150.62 57.44 L150.76 57.93 L150.90 58.41 L151.04 58.89 L151.18 59.36 L151.31 59.83 L151.45 60.30 L151.59 60.77 L151.73 61.23 L151.87 61.69 L152.01 62.15 L152.15 62.61 L152.29 63.06 L152.43 63.51 L152.57 63.96 L152.71 64.40 L152.85 64.85 L152.99 65.29 L153.12 65.72 L153.26 66.16 L153.40 66.59 L153.54 67.02 L153.68 67.45 L153.82 67.87 L153.96 68.29 L154.10 68.71 L154.24 69.13 L154.38 69.54 L154.52 69.96 L154.66 70.37 L154.80 70.77 L154.94 71.18 L155.07 71.58 L155.21 71.98 L155.35 72.38 L155.49 72.77 L155.63 73.17 L155.77 73.56 L155.91 73.95 L156.05 74.33 L156.19 74.72 L156.33 75.10 L156.47 75.48 L156.61 75.86 L156.75 76.23 L156.88 76.61 L157.02 76.98 L157.16 77.34 L157.30 77.71 L157.44 78.08 L157.58 78.44 L157.72 78.80 L157.86 79.16 L158.00 79.51 L158.14 79.87 L158.28 80.22 L158.42 80.57 L158.56 80.92 L158.69 81.26 L158.83 81.61 L158.97 81.95 L159.11 82.29 L159.25 82.63 L159.39 82.96 L159.53 83.30 L159.67 83.63 L159.81 83.96 L159.95 84.29 L160.09 84.62 L160.23 84.94 L160.37 85.27 L160.51 85.59 L160.64 85.91 L160.78 86.22 L160.92 86.54 L161.06 86.85 L161.20 87.17 L161.34 87.48 L161.48 87.78 L161.62 88.09 L161.76 88.40 L161.90 88.70 L162.04 89.00 L162.18 89.30 L162.32 89.60 L162.45 89.90 L162.59 90.19 L162.73 90.49 L162.87 90.78 L163.01 91.07 L163.15 91.36 L163.29 91.64 L163.43 91.93 L163.57 92.21 L163.71 92.49 L163.85 92.77 L163.99 93.05 L164.13 93.33 L164.26 93.61 L164.40 93.88 L164.54 94.15 L164.68 94.42 L164.82 94.69 L164.96 94.96 L165.10 95.23 L165.24 95.49 L165.38 95.76 L165.52 96.02 L165.66 96.28 L165.80 96.54 L165.94 96.80 L166.07 97.05 L166.21 97.31 L166.35 97.56 L166.49 97.82 L166.63 98.07 L166.77 98.32 L166.91 98.56 L167.05 98.81 L167.19 99.06 L167.33 99.30 L167.47 99.54 L167.61 99.78 L167.75 100.02 L167.89 100.26 L168.02 100.50 L168.16 100.74 L168.30 100.97 L168.44 101.21 L168.58 101.44 L168.72 101.67 L168.86 101.90 L169.00 102.13 L169.14 102.35 L169.28 102.58 L169.42 102.80 L169.56 103.03 L169.70 103.25 L169.83 103.47 L169.97 103.69 L170.11 103.91 L170.25 104.13 L170.39 104.34 L170.53 104.56 L170.67 104.77 L170.81 104.99 L170.95 105.20 L171.09 105.41 L171.23 105.62 L171.37 105.83 L171.51 106.03 L171.64 106.24 L171.78 106.44 L171.92 106.65 L172.06 106.85 L172.20 107.05 L172.34 107.25 L172.48 107.45 L172.62 107.65 L172.76 107.85 L172.90 108.05 L173.04 108.24 L173.18 108.43 L173.32 108.63 L173.46 108.82 L173.59 109.01 L173.73 109.20 L173.87 109.39 L174.01 109.58 L174.15 109.77 L174.29 109.95 L174.43 110.14 L174.57 110.32 L174.71 110.50 L174.85 110.69 L174.99 110.87 L175.13 111.05 L175.27 111.23 L175.40 111.41 L175.54 111.58 L175.68 111.76 L175.82 111.93 L175.96 112.11 L176.10 112.28 L176.24 112.46 L176.38 112.63 L176.52 112.80 L176.66 112.97 L176.80 113.14 L176.94 113.31 L177.08 113.47 L177.21 113.64 L177.35 113.81 L177.49 113.97 L177.63 114.13 L177.77 114.30 L177.91 114.46 L178.05 114.62 L178.19 114.78 L178.33 114.94 L178.47 115.10 L178.61 115.26 L178.75 115.42 L178.89 115.57 L179.02 115.73 L179.16 115.88 L179.30 116.04 L179.44 116.19 L179.58 116.34 L179.72 116.49 L179.86 116.64 L180.00 116.79 L180.14 116.94 L180.28 117.09 L180.42 117.24 L180.56 117.39 L180.70 117.53 L180.84 117.68 L180.97 117.82 L181.11 117.97 L181.25 118.11 L181.39 118.25 L181.53 118.39 L181.67 118.53 L181.81 118.67 L181.95 118.81 L182.09 118.95 L182.23 119.09 L182.37 119.23 L182.51 119.37 L182.65 119.50 L183.31 120.14 L183.98 120.77 L184.64 121.38 L185.31 121.97 L185.97 122.55 L186.63 123.12 L187.30 123.67 L187.96 124.21 L188.63 124.74 L189.29 125.25 L189.96 125.76 L190.62 126.25 L191.29 126.73 L191.95 127.20 L192.62 127.65 L193.28 128.10 L193.95 128.54 L194.61 128.97 L195.28 129.38 L195.94 129.79 L196.61 130.19 L197.27 130.58 L197.94 130.96 L198.60 131.33 L199.27 131.69 L199.93 132.05 L200.60 132.40 L201.26 132.74 L201.93 133.07 L202.59 133.39 L203.26 133.71 L203.92 134.02 L204.59 134.32 L205.25 134.62 L205.92 134.91 L206.58 135.19 L207.25 135.47 L207.91 135.74 L208.58 136.01 L209.24 136.27 L209.91 136.52 L210.57 136.77 L211.24 137.02 L211.90 137.26 L212.57 137.49 L213.23 137.72 L213.90 137.94 L214.56 138.16 L215.23 138.38 L215.89 138.59 L216.56 138.79 L217.22 138.99 L217.89 139.19 L218.55 139.38 L219.22 139.57 L219.88 139.76 L220.55 139.94 L221.21 140.11 L221.88 140.29 L222.54 140.46 L223.21 140.62 L223.87 140.79 L224.54 140.95 L225.20 141.10 L225.87 141.26 L226.53 141.41 L227.20 141.56 L227.86 141.70 L228.53 141.84 L229.19 141.98 L229.86 142.12 L230.52 142.25 L231.18 142.38 L231.85 142.51 L232.51 142.63 L233.18 142.76 L233.84 142.88 L234.51 143.00 L235.17 143.11 L235.84 143.23 L236.50 143.34 L237.17 143.45 L237.83 143.56 L238.50 143.66 L239.16 143.76 L239.83 143.87 L240.49 143.96 L241.16 144.06 L241.82 144.16 L242.49 144.25 L243.15 144.34 L243.82 144.43 L244.48 144.52 L245.15 144.61 L245.81 144.69 L246.48 144.78 L247.14 144.86 L247.81 144.94 L248.47 145.02 L249.14 145.10 L249.80 145.17 L250.47 145.25 L251.13 145.32 L251.80 145.39 L252.46 145.46 L253.13 145.53 L253.79 145.60 L254.46 145.67 L255.12 145.73 L255.79 145.80 L256.45 145.86 L257.12 145.92 L257.78 145.99 L258.45 146.05 L259.11 146.10 L259.78 146.16 L260.44 146.22 L261.11 146.28 L261.77 146.33 L262.44 146.38 L263.10 146.44 L263.77 146.49 L264.43 146.54 L265.10 146.59 L265.76 146.64 L266.43 146.69 L267.09 146.74 L267.76 146.78 L268.42 146.83 L269.09 146.87 L269.75 146.92 L270.42 146.96 L271.08 147.01 L271.75 147.05 L272.41 147.09 L273.08 147.13 L273.74 147.17 L274.40 147.21 L275.07 147.25 L275.73 147.29 L276.40 147.32 L277.06 147.36 L277.73 147.40 L278.39 147.43 L279.06 147.47 L279.72 147.50 L280.39 147.54 L281.05 147.57 L281.72 147.60 L282.38 147.63 L283.05 147.66 L283.71 147.70 L284.38 147.73 L285.04 147.76 L285.71 147.79 L286.37 147.82 L287.04 147.84 L287.70 147.87 L288.37 147.90 L289.03 147.93 L289.70 147.95 L290.36 147.98 L291.03 148.01 L291.69 148.03 L292.36 148.06 L293.02 148.08 L293.69 148.11 L294.35 148.13 L295.02 148.15 L295.68 148.18 L296.35 148.20 L297.01 148.22 L297.68 148.24 L298.34 148.27 L299.01 148.29 L299.67 148.31 L300.34 148.33 L301.00 148.35 L301.67 148.37 L302.33 148.39 L303.00 148.41 L303.66 148.43 L304.33 148.45 L304.99 148.47 L305.66 148.49 L306.32 148.50 L306.99 148.52 L307.65 148.54 L308.32 148.56 L308.98 148.57 L309.65 148.59 L310.31 148.61 L310.98 148.62 L311.64 148.64 L312.31 148.65 L312.97 148.67 L313.64 148.68 L314.30 148.70 L314.97 148.71 L315.63 148.73 L316.30 148.74 L316.96 148.76 L317.62 148.77 L318.29 148.79 L318.95 148.80 L319.62 148.81 L320.28 148.83 L320.95 148.84 L321.61 148.85 L322.28 148.86 L322.94 148.88 L323.61 148.89 L324.27 148.90 L324.94 148.91 L325.60 148.92 L326.27 148.94 L326.93 148.95 L327.60 148.96 L328.26 148.97 L328.93 148.98 L329.59 148.99 L330.26 149.00 L330.92 149.01 L331.59 149.02 L332.25 149.03 L332.92 149.04 L333.58 149.05 L334.25 149.06 L334.91 149.07 L335.58 149.08 L336.24 149.09 L336.91 149.10 L337.57 149.11 L338.24 149.12 L338.90 149.13 L339.57 149.14 L340.23 149.14 L340.90 149.15 L341.56 149.16 L342.23 149.17 L342.89 149.18 L343.56 149.19 L344.22 149.19 L344.89 149.20 L345.55 149.21 L346.22 149.22 L346.88 149.22 L347.55 149.23 L348.21 149.24 L348.88 149.25 L349.54 149.25 L350.21 149.26 L350.87 149.27 L351.54 149.27 L352.20 149.28 L352.87 149.29 L353.53 149.29 L354.20 149.30 L354.86 149.31 L355.53 149.31 L356.19 149.32 L356.86 149.32 L357.52 149.33 L358.19 149.34 L358.85 149.34 L359.52 149.35 L360.18 149.35 L360.84 149.36 L361.51 149.36 L362.17 149.37 L362.84 149.38 L363.50 149.38 L364.17 149.39 L364.83 149.39 L365.50 149.40 L366.16 149.40 L366.83 149.41 L367.49 149.41 L368.16 149.42 L368.82 149.42 L369.49 149.43 L370.15 149.43 L370.82 149.43 L371.48 149.44 L372.15 149.44 L372.81 149.45 L373.48 149.45 L374.14 149.46 L374.81 149.46 L375.47 149.47 L376.14 149.47 L376.80 149.47 L377.47 149.48 L378.13 149.48 L378.80 149.49 L379.46 149.49 L380.13 149.49 L380.79 149.50 L381.46 149.50 L382.12 149.51 L382.79 149.51 L383.45 149.51 L384.12 149.52 L384.78 149.52 L385.45 149.52 L386.11 149.53 L386.78 149.53 L387.44 149.53 L388.11 149.54 L388.77 149.54 L389.44 149.54 L390.10 149.55 L390.77 149.55 L391.43 149.55 L392.10 149.56 L392.76 149.56 L393.43 149.56 L394.09 149.56 L394.76 149.57 L395.42 149.57 L396.09 149.57 L396.75 149.58 L397.42 149.58 L398.08 149.58 L398.75 149.58 L399.41 149.59 L400.08 149.59 L400.74 149.59 L401.41 149.60 L402.07 149.60 L402.74 149.60 L403.40 149.60 L404.07 149.61 L404.73 149.61 L405.39 149.61 L406.06 149.61 L406.72 149.62 L407.39 149.62 L408.05 149.62 L408.72 149.62 L409.38 149.62 L410.05 149.63 L410.71 149.63 L411.38 149.63 L412.04 149.63 L412.71 149.64 L413.37 149.64 L414.04 149.64 L414.70 149.64 L415.37 149.64 L416.03 149.65 L416.70 149.65 L417.36 149.65 L418.03 149.65 L418.69 149.65 L419.36 149.66 L420.02 149.66 L420.69 149.66 L421.35 149.66 L422.02 149.66 L422.68 149.67 L423.35 149.67 L424.01 149.67 L424.68 149.67 L425.34 149.67 L426.01 149.67 L426.67 149.68 L427.34 149.68 L428.00 149.68 L428.67 149.68 L429.33 149.68 L430.00 149.68 L430.66 149.69 L431.33 149.69 L431.99 149.69 L432.66 149.69 L433.32 149.69 L433.99 149.69 L434.65 149.69 L435.32 149.70 L435.98 149.70 L436.65 149.70 L437.31 149.70 L437.98 149.70 L438.64 149.70 L439.31 149.70 L439.97 149.71 L440.64 149.71 L441.30 149.71 L441.97 149.71 L442.63 149.71 L443.30 149.71 L443.96 149.71 L444.63 149.71 L445.29 149.72 L445.96 149.72 L446.62 149.72 L447.29 149.72 L447.95 149.72" stroke="#ff00ff" stroke-width="2.6" stroke-dasharray="8.66 4.33 4.33 4.33"/>
<path d="M169.42 283.90 L169.56 283.17 L169.69 282.45 L169.83 281.73 L169.97 281.01 L170.11 280.30 L170.25 279.59 L170.39 278.89 L170.53 278.19 L170.67 277.50 L170.81 276.81 L170.95 276.12 L171.09 275.44 L171.23 274.76 L171.37 274.09 L171.51 273.42 L171.64 272.75 L171.78 272.09 L171.92 271.43 L172.06 270.78 L172.20 270.13 L172.34 269.49 L172.48 268.84 L172.62 268.21 L172.76 267.57 L172.90 266.94 L173.04 266.32 L173.18 265.69 L173.32 265.07 L173.45 264.46 L173.59 263.85 L173.73 263.24 L173.87 262.64 L174.01 262.04 L174.15 261.44 L174.29 260.85 L174.43 260.26 L174.57 259.67 L174.71 259.09 L174.85 258.51 L174.99 257.93 L175.13 257.36 L175.26 256.79 L175.40 256.22 L175.54 255.66 L175.68 255.10 L175.82 254.55 L175.96 254.00 L176.10 253.45 L176.24 252.90 L176.38 252.36 L176.52 251.82 L176.66 251.28 L176.80 250.75 L176.94 250.22 L177.07 249.69 L177.21 249.17 L177.35 248.65 L177.49 248.13 L177.63 247.62 L177.77 247.11 L177.91 246.60 L178.05 246.09 L178.19 245.59 L178.33 245.09 L178.47 244.59 L178.61 244.10 L178.75 243.61 L178.89 243.12 L179.02 242.64 L179.16 242.15 L179.30 241.68 L179.44 241.20 L179.58 240.73 L179.72 240.25 L179.86 239.79 L180.00 239.32 L180.14 238.86 L180.28 238.40 L180.42 237.94 L180.56 237.49 L180.70 237.03 L180.83 236.58 L180.97 236.14 L181.11 235.69 L181.25 235.25 L181.39 234.81 L181.53 234.37 L181.67 233.94 L181.81 233.51 L181.95 233.08 L182.09 232.65 L182.23 232.23 L182.37 231.81 L182.51 231.39 L182.64 230.97 L182.78 230.56 L182.92 230.14 L183.06 229.73 L183.20 229.33 L183.34 228.92 L183.48 228.52 L183.62 228.12 L183.76 227.72 L183.90 227.32 L184.04 226.93 L184.18 226.54 L184.32 226.15 L184.46 225.76 L184.59 225.38 L184.73 225.00 L184.87 224.62 L185.01 224.24 L185.15 223.86 L185.29 223.49 L185.43 223.12 L185.57 222.75 L185.71 222.38 L185.85 222.01 L185.99 221.65 L186.13 221.29 L186.27 220.93 L186.40 220.57 L186.54 220.22 L186.68 219.86 L186.82 219.51 L186.96 219.16 L187.10 218.82 L187.24 218.47 L187.38 218.13 L187.52 217.79 L187.66 217.45 L187.80 217.11 L187.94 216.77 L188.08 216.44 L188.21 216.11 L188.35 215.78 L188.49 215.45 L188.63 215.12 L188.77 214.80 L188.91 214.48 L189.05 214.15 L189.19 213.84 L189.33 213.52 L189.47 213.20 L189.61 212.89 L189.75 212.58 L189.89 212.27 L190.03 211.96 L190.16 211.65 L190.30 211.35 L190.44 211.04 L190.58 210.74 L190.72 210.44 L190.86 210.14 L191.00 209.84 L191.14 209.55 L191.28 209.26 L191.42 208.96 L191.56 208.67 L191.70 208.38 L191.84 208.10 L191.97 207.81 L192.11 207.53 L192.25 207.25 L192.39 206.96 L192.53 206.69 L192.67 206.41 L192.81 206.13 L192.95 205.86 L193.09 205.58 L193.23 205.31 L193.37 205.04 L193.51 204.77 L193.65 204.51 L193.78 204.24 L193.92 203.98 L194.06 203.71 L194.20 203.45 L194.34 203.19 L194.48 202.93 L194.62 202.68 L194.76 202.42 L194.90 202.17 L195.04 201.91 L195.18 201.66 L195.32 201.41 L195.46 201.16 L195.59 200.91 L195.73 200.67 L195.87 200.42 L196.01 200.18 L196.15 199.94 L196.29 199.70 L196.43 199.46 L196.57 199.22 L196.71 198.98 L196.85 198.75 L196.99 198.51 L197.13 198.28 L197.27 198.05 L197.41 197.82 L197.54 197.59 L197.68 197.36 L197.82 197.13 L197.96 196.90 L198.10 196.68 L198.24 196.46 L198.38 196.23 L198.52 196.01 L198.66 195.79 L198.80 195.58 L198.94 195.36 L199.08 195.14 L199.22 194.93 L199.35 194.71 L199.49 194.50 L199.63 194.29 L199.77 194.08 L199.91 193.87 L200.05 193.66 L200.19 193.45 L200.33 193.25 L200.47 193.04 L200.61 192.84 L200.75 192.64 L200.89 192.43 L201.03 192.23 L201.16 192.03 L201.30 191.83 L201.44 191.64 L201.58 191.44 L201.72 191.25 L201.86 191.05 L202.00 190.86 L202.14 190.67 L202.28 190.47 L202.42 190.28 L202.56 190.09 L202.70 189.91 L202.84 189.72 L202.98 189.53 L203.11 189.35 L203.25 189.16 L203.39 188.98 L203.53 188.80 L203.67 188.62 L203.81 188.43 L203.95 188.26 L204.09 188.08 L204.23 187.90 L204.37 187.72 L204.51 187.55 L204.65 187.37 L204.79 187.20 L204.92 187.02 L205.06 186.85 L205.20 186.68 L205.34 186.51 L205.48 186.34 L205.62 186.17 L205.76 186.00 L205.90 185.84 L206.04 185.67 L206.18 185.51 L206.32 185.34 L206.46 185.18 L206.60 185.02 L206.73 184.85 L206.87 184.69 L207.01 184.53 L207.15 184.37 L207.29 184.22 L207.43 184.06 L207.57 183.90 L207.71 183.75 L207.85 183.59 L207.99 183.44 L208.13 183.28 L208.27 183.13 L208.41 182.98 L208.54 182.83 L208.68 182.68 L208.82 182.53 L208.96 182.38 L209.10 182.23 L209.24 182.08 L209.38 181.94 L209.52 181.79 L209.66 181.64 L209.80 181.50 L209.94 181.36 L210.08 181.21 L210.22 181.07 L210.36 180.93 L210.49 180.79 L210.63 180.65 L210.77 180.51 L210.91 180.37 L211.05 180.23 L211.65 179.65 L212.24 179.09 L212.83 178.53 L213.43 177.99 L214.02 177.45 L214.61 176.93 L215.21 176.42 L215.80 175.93 L216.39 175.44 L216.99 174.96 L217.58 174.49 L218.18 174.03 L218.77 173.58 L219.36 173.15 L219.96 172.72 L220.55 172.29 L221.14 171.88 L221.74 171.48 L222.33 171.08 L222.93 170.69 L223.52 170.32 L224.11 169.94 L224.71 169.58 L225.30 169.22 L225.89 168.87 L226.49 168.53 L227.08 168.20 L227.68 167.87 L228.27 167.55 L228.86 167.23 L229.46 166.92 L230.05 166.62 L230.64 166.32 L231.24 166.03 L231.83 165.74 L232.43 165.47 L233.02 165.19 L233.61 164.92 L234.21 164.66 L234.80 164.40 L235.39 164.15 L235.99 163.90 L236.58 163.66 L237.18 163.42 L237.77 163.18 L238.36 162.96 L238.96 162.73 L239.55 162.51 L240.14 162.29 L240.74 162.08 L241.33 161.87 L241.93 161.67 L242.52 161.47 L243.11 161.27 L243.71 161.08 L244.30 160.89 L244.89 160.71 L245.49 160.52 L246.08 160.35 L246.68 160.17 L247.27 160.00 L247.86 159.83 L248.46 159.67 L249.05 159.50 L249.64 159.34 L250.24 159.19 L250.83 159.03 L251.43 158.88 L252.02 158.74 L252.61 158.59 L253.21 158.45 L253.80 158.31 L254.39 158.17 L254.99 158.04 L255.58 157.91 L256.17 157.78 L256.77 157.65 L257.36 157.52 L257.96 157.40 L258.55 157.28 L259.14 157.16 L259.74 157.04 L260.33 156.93 L260.92 156.82 L261.52 156.71 L262.11 156.60 L262.71 156.49 L263.30 156.39 L263.89 156.29 L264.49 156.19 L265.08 156.09 L265.67 155.99 L266.27 155.89 L266.86 155.80 L267.46 155.71 L268.05 155.62 L268.64 155.53 L269.24 155.44 L269.83 155.35 L270.42 155.27 L271.02 155.19 L271.61 155.11 L272.21 155.03 L272.80 154.95 L273.39 154.87 L273.99 154.79 L274.58 154.72 L275.17 154.64 L275.77 154.57 L276.36 154.50 L276.96 154.43 L277.55 154.36 L278.14 154.30 L278.74 154.23 L279.33 154.16 L279.92 154.10 L280.52 154.04 L281.11 153.98 L281.71 153.91 L282.30 153.85 L282.89 153.80 L283.49 153.74 L284.08 153.68 L284.67 153.62 L285.27 153.57 L285.86 153.52 L286.46 153.46 L287.05 153.41 L287.64 153.36 L288.24 153.31 L288.83 153.26 L289.42 153.21 L290.02 153.16 L290.61 153.11 L291.21 153.07 L291.80 153.02 L292.39 152.97 L292.99 152.93 L293.58 152.89 L294.17 152.84 L294.77 152.80 L295.36 152.76 L295.95 152.72 L296.55 152.68 L297.14 152.64 L297.74 152.60 L298.33 152.56 L298.92 152.52 L299.52 152.48 L300.11 152.45 L300.70 152.41 L301.30 152.38 L301.89 152.34 L302.49 152.31 L303.08 152.27 L303.67 152.24 L304.27 152.21 L304.86 152.17 L305.45 152.14 L306.05 152.11 L306.64 152.08 L307.24 152.05 L307.83 152.02 L308.42 151.99 L309.02 151.96 L309.61 151.93 L310.20 151.90 L310.80 151.88 L311.39 151.85 L311.99 151.82 L312.58 151.80 L313.17 151.77 L313.77 151.74 L314.36 151.72 L314.95 151.69 L315.55 151.67 L316.14 151.65 L316.74 151.62 L317.33 151.60 L317.92 151.58 L318.52 151.55 L319.11 151.53 L319.70 151.51 L320.30 151.49 L320.89 151.47 L321.49 151.44 L322.08 151.42 L322.67 151.40 L323.27 151.38 L323.86 151.36 L324.45 151.34 L325.05 151.32 L325.64 151.30 L326.24 151.29 L326.83 151.27 L327.42 151.25 L328.02 151.23 L328.61 151.21 L329.20 151.20 L329.80 151.18 L330.39 151.16 L330.99 151.15 L331.58 151.13 L332.17 151.11 L332.77 151.10 L333.36 151.08 L333.95 151.07 L334.55 151.05 L335.14 151.04 L335.73 151.02 L336.33 151.01 L336.92 150.99 L337.52 150.98 L338.11 150.96 L338.70 150.95 L339.30 150.94 L339.89 150.92 L340.48 150.91 L341.08 150.90 L341.67 150.88 L342.27 150.87 L342.86 150.86 L343.45 150.85 L344.05 150.83 L344.64 150.82 L345.23 150.81 L345.83 150.80 L346.42 150.79 L347.02 150.77 L347.61 150.76 L348.20 150.75 L348.80 150.74 L349.39 150.73 L349.98 150.72 L350.58 150.71 L351.17 150.70 L351.77 150.69 L352.36 150.68 L352.95 150.67 L353.55 150.66 L354.14 150.65 L354.73 150.64 L355.33 150.63 L355.92 150.62 L356.52 150.61 L357.11 150.60 L357.70 150.59 L358.30 150.59 L358.89 150.58 L359.48 150.57 L360.08 150.56 L360.67 150.55 L361.27 150.54 L361.86 150.54 L362.45 150.53 L363.05 150.52 L363.64 150.51 L364.23 150.50 L364.83 150.50 L365.42 150.49 L366.02 150.48 L366.61 150.47 L367.20 150.47 L367.80 150.46 L368.39 150.45 L368.98 150.45 L369.58 150.44 L370.17 150.43 L370.76 150.43 L371.36 150.42 L371.95 150.41 L372.55 150.41 L373.14 150.40 L373.73 150.39 L374.33 150.39 L374.92 150.38 L375.51 150.38 L376.11 150.37 L376.70 150.36 L377.30 150.36 L377.89 150.35 L378.48 150.35 L379.08 150.34 L379.67 150.34 L380.26 150.33 L380.86 150.33 L381.45 150.32 L382.05 150.32 L382.64 150.31 L383.23 150.30 L383.83 150.30 L384.42 150.29 L385.01 150.29 L385.61 150.29 L386.20 150.28 L386.80 150.28 L387.39 150.27 L387.98 150.27 L388.58 150.26 L389.17 150.26 L389.76 150.25 L390.36 150.25 L390.95 150.24 L391.55 150.24 L392.14 150.24 L392.73 150.23 L393.33 150.23 L393.92 150.22 L394.51 150.22 L395.11 150.22 L395.70 150.21 L396.30 150.21 L396.89 150.20 L397.48 150.20 L398.08 150.20 L398.67 150.19 L399.26 150.19 L399.86 150.19 L400.45 150.18 L401.05 150.18 L401.64 150.17 L402.23 150.17 L402.83 150.17 L403.42 150.16 L404.01 150.16 L404.61 150.16 L405.20 150.16 L405.80 150.15 L406.39 150.15 L406.98 150.15 L407.58 150.14 L408.17 150.14 L408.76 150.14 L409.36 150.13 L409.95 150.13 L410.54 150.13 L411.14 150.12 L411.73 150.12 L412.33 150.12 L412.92 150.12 L413.51 150.11 L414.11 150.11 L414.70 150.11 L415.29 150.11 L415.89 150.10 L416.48 150.10 L417.08 150.10 L417.67 150.10 L418.26 150.09 L418.86 150.09 L419.45 150.09 L420.04 150.09 L420.64 150.08 L421.23 150.08 L421.83 150.08 L422.42 150.08 L423.01 150.07 L423.61 150.07 L424.20 150.07 L424.79 150.07 L425.39 150.07 L425.98 150.06 L426.58 150.06 L427.17 150.06 L427.76 150.06 L428.36 150.05 L428.95 150.05 L429.54 150.05 L430.14 150.05 L430.73 150.05 L431.33 150.04 L431.92 150.04 L432.51 150.04 L433.11 150.04 L433.70 150.04 L434.29 150.04 L434.89 150.03 L435.48 150.03 L436.08 150.03 L436.67 150.03 L437.26 150.03 L437.86 150.02 L438.45 150.02 L439.04 150.02 L439.64 150.02 L440.23 150.02 L440.83 150.02 L441.42 150.01 L442.01 150.01 L442.61 150.01 L443.20 150.01 L443.79 150.01 L444.39 150.01 L444.98 150.01 L445.58 150.00 L446.17 150.00 L446.76 150.00 L447.36 150.00 L447.95 150.00" stroke="#800080" stroke-width="2.5" stroke-dasharray="1.0 4.4 4.3 4.45"/>
</g>
<g stroke="#5c5c5c" stroke-width="1" fill="none">
<line x1="48.25" y1="150" x2="48.25" y2="147.00"/>
<line x1="64.91" y1="150" x2="64.91" y2="147.00"/>
<line x1="81.56" y1="150" x2="81.56" y2="147.00"/>
<line x1="98.22" y1="150" x2="98.22" y2="147.00"/>
<line x1="114.87" y1="150" x2="114.87" y2="145.00"/>
<line x1="131.52" y1="150" x2="131.52" y2="147.00"/>
<line x1="148.18" y1="150" x2="148.18" y2="147.00"/>
<line x1="164.83" y1="150" x2="164.83" y2="147.00"/>
<line x1="181.49" y1="150" x2="181.49" y2="147.00"/>
<line x1="198.14" y1="150" x2="198.14" y2="145.00"/>
<line x1="214.79" y1="150" x2="214.79" y2="147.00"/>
<line x1="231.45" y1="150" x2="231.45" y2="147.00"/>
<line x1="248.10" y1="150" x2="248.10" y2="147.00"/>
<line x1="264.76" y1="150" x2="264.76" y2="147.00"/>
<line x1="281.41" y1="150" x2="281.41" y2="145.00"/>
<line x1="298.06" y1="150" x2="298.06" y2="147.00"/>
<line x1="314.72" y1="150" x2="314.72" y2="147.00"/>
<line x1="331.37" y1="150" x2="331.37" y2="147.00"/>
<line x1="348.03" y1="150" x2="348.03" y2="147.00"/>
<line x1="364.68" y1="150" x2="364.68" y2="145.00"/>
<line x1="381.33" y1="150" x2="381.33" y2="147.00"/>
<line x1="397.99" y1="150" x2="397.99" y2="147.00"/>
<line x1="414.64" y1="150" x2="414.64" y2="147.00"/>
<line x1="431.30" y1="150" x2="431.30" y2="147.00"/>
<line x1="447.95" y1="150" x2="447.95" y2="145.00"/>
<line x1="31" y1="283.40" x2="34.80" y2="283.40"/>
<line x1="31" y1="274.32" x2="34.80" y2="274.32"/>
<line x1="31" y1="264.75" x2="36.60" y2="264.75"/>
<line x1="31" y1="255.17" x2="34.80" y2="255.17"/>
<line x1="31" y1="245.60" x2="34.80" y2="245.60"/>
<line x1="31" y1="236.02" x2="34.80" y2="236.02"/>
<line x1="31" y1="226.45" x2="36.60" y2="226.45"/>
<line x1="31" y1="216.88" x2="34.80" y2="216.88"/>
<line x1="31" y1="207.30" x2="34.80" y2="207.30"/>
<line x1="31" y1="197.72" x2="34.80" y2="197.72"/>
<line x1="31" y1="188.15" x2="36.60" y2="188.15"/>
<line x1="31" y1="178.57" x2="34.80" y2="178.57"/>
<line x1="31" y1="169.00" x2="34.80" y2="169.00"/>
<line x1="31" y1="159.42" x2="34.80" y2="159.42"/>
<line x1="31" y1="149.85" x2="36.60" y2="149.85"/>
<line x1="31" y1="140.28" x2="34.80" y2="140.28"/>
<line x1="31" y1="130.70" x2="34.80" y2="130.70"/>
<line x1="31" y1="121.12" x2="34.80" y2="121.12"/>
<line x1="31" y1="111.55" x2="36.60" y2="111.55"/>
<line x1="31" y1="101.97" x2="34.80" y2="101.97"/>
<line x1="31" y1="92.40" x2="34.80" y2="92.40"/>
<line x1="31" y1="82.83" x2="34.80" y2="82.83"/>
<line x1="31" y1="73.25" x2="36.60" y2="73.25"/>
<line x1="31" y1="63.67" x2="34.80" y2="63.67"/>
<line x1="31" y1="54.10" x2="34.80" y2="54.10"/>
<line x1="31" y1="44.53" x2="34.80" y2="44.53"/>
<line x1="31" y1="34.95" x2="36.60" y2="34.95"/>
<line x1="31" y1="25.38" x2="34.80" y2="25.38"/>
<line x1="31" y1="15.60" x2="34.80" y2="15.60"/>
<line x1="31.5" y1="15.1" x2="31.5" y2="283.9"/>
</g>
<g font-size="10px" filter="url(#g)">
<text x="115.07" y="162.00" text-anchor="middle">2</text>
<text x="198.34" y="162.00" text-anchor="middle">3</text>
<text x="281.61" y="162.00" text-anchor="middle">4</text>
<text x="364.88" y="162.00" text-anchor="middle">5</text>
<text x="448.15" y="162.00" text-anchor="middle">6</text>
<text x="28.40" y="38.55" text-anchor="end">6</text>
<text x="28.40" y="76.85" text-anchor="end">4</text>
<text x="28.40" y="115.15" text-anchor="end">2</text>
<text x="28.40" y="191.75" text-anchor="end">−<tspan dx="-0.8">2</tspan></text>
<text x="28.40" y="230.05" text-anchor="end">−<tspan dx="-0.8">4</tspan></text>
<text x="28.40" y="268.35" text-anchor="end">−<tspan dx="-0.8">6</tspan></text>
<text x="465.7" y="152.6" font-size="9.5px">x</text>
<text x="1.0" y="7.7" font-size="9.65px">Function value</text>
</g>
<g fill="none">
<line x1="367.65" y1="28.50" x2="411.05" y2="28.50" stroke="#ff0000" stroke-width="2.6"/>
<line x1="368.90" y1="48.12" x2="409.80" y2="48.12" stroke="#0000ff" stroke-width="2.6" stroke-dasharray="4.6 4"/>
<line x1="368.90" y1="67.74" x2="409.80" y2="67.74" stroke="#000000" stroke-width="2.3" stroke-dasharray="1.1 4.31"/>
<line x1="368.90" y1="87.36" x2="409.80" y2="87.36" stroke="#00ff00" stroke-width="2.6" stroke-dasharray="14.8 3.75 3.7 3.75"/>
<line x1="368.90" y1="106.98" x2="409.80" y2="106.98" stroke="#ff00ff" stroke-width="2.6" stroke-dasharray="7.4 3.7 3.7 3.7"/>
<line x1="368.90" y1="126.60" x2="409.80" y2="126.60" stroke="#800080" stroke-width="2.0" stroke-dasharray="0.9 4.45 4.4 4.4"/>
</g>
<g font-size="8px" filter="url(#g)" stroke="#000" stroke-width="0.15">
<text x="415.0" y="30.90" font-size="6.8px">ψ<tspan x="419.7" y="32.80" font-size="5.6px">2</tspan><tspan x="423.9" y="27.65" font-size="5px" letter-spacing="0.3">(3)</tspan><tspan x="431.2" y="31.20" font-size="7.8px">(x)</tspan></text>
<text x="415.0" y="50.52" font-size="6.8px">ψ<tspan x="419.7" y="52.42" font-size="5.6px">2</tspan><tspan x="423.9" y="47.27" font-size="5px" letter-spacing="0.3">(4)</tspan><tspan x="431.2" y="50.82" font-size="7.8px">(x)</tspan></text>
<text x="415.0" y="70.14" font-size="6.8px">ψ<tspan x="419.7" y="72.04" font-size="5.6px">2</tspan><tspan x="423.9" y="66.89" font-size="5px" letter-spacing="0.3">(5)</tspan><tspan x="431.2" y="70.44" font-size="7.8px">(x)</tspan></text>
<text x="415.0" y="89.76" font-size="6.8px">ψ<tspan x="419.7" y="91.66" font-size="5.6px">2</tspan><tspan x="423.9" y="86.51" font-size="5px" letter-spacing="0.3">(6)</tspan><tspan x="431.2" y="90.06" font-size="7.8px">(x)</tspan></text>
<text x="415.0" y="109.38" font-size="6.8px">ψ<tspan x="419.7" y="111.28" font-size="5.6px">2</tspan><tspan x="423.9" y="106.13" font-size="5px" letter-spacing="0.3">(7)</tspan><tspan x="431.2" y="109.68" font-size="7.8px">(x)</tspan></text>
<text x="415.0" y="129.00" font-size="6.8px">ψ<tspan x="419.7" y="130.90" font-size="5.6px">2</tspan><tspan x="423.9" y="125.75" font-size="5px" letter-spacing="0.3">(8)</tspan><tspan x="431.2" y="129.30" font-size="7.8px">(x)</tspan></text>
</g>
</svg>
</body></html>
